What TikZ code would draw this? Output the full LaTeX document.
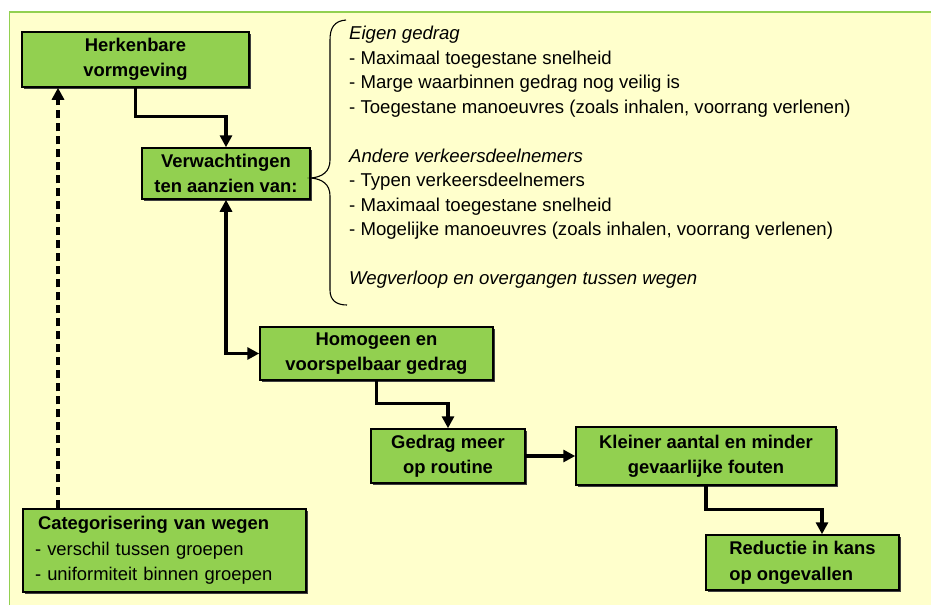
\documentclass[tikz,border=0pt]{standalone}
\usepackage{fontspec}
\setmainfont{Liberation Sans}
\usetikzlibrary{arrows.meta,shadows}
\definecolor{bgyellow}{HTML}{FFFFCC}
\definecolor{boxgreen}{HTML}{92D050}
\begin{document}
\begin{tikzpicture}[x=1pt,y=-1pt,
  box/.style={draw=black, line width=1.5pt, fill=boxgreen, inner sep=0pt,
    drop shadow={shadow xshift=1.8pt, shadow yshift=-1.8pt, fill=black!75, opacity=1},
    font=\fontsize{18.4}{25}\selectfont\bfseries, align=center},
  lbox/.style={box, align=left, font=\fontsize{18.4}{25.5}\selectfont},
  tip/.tip={Triangle[length=12pt,width=12pt]},
  arr/.style={line width=3.2pt, -tip},
  darr/.style={line width=3.2pt, tip-tip},
  dasharr/.style={line width=3.2pt, dash pattern=on 8pt off 5pt, -tip},
  line/.style={anchor=base west, inner sep=0pt, font=\fontsize{18.6}{24.5}\selectfont}]
\useasboundingbox (0,0) rectangle (931,605);
\fill[bgyellow] (9.5,12) rectangle (931,605);
\draw[boxgreen, line width=1.8pt] (9.5,605) -- (9.5,12) -- (931,12);

\node[box, minimum width=227pt, minimum height=55pt] (herk) at (135.5,59.5) {Herkenbare\\vormgeving};
\node[box, minimum width=168pt, minimum height=51pt] (verw) at (226,173.5) {Verwachtingen\\ten aanzien van:};
\node[box, minimum width=233pt, minimum height=53pt] (homo) at (376.5,353.5) {Homogeen en\\voorspelbaar gedrag};
\node[box, minimum width=154pt, minimum height=54pt] (gedr) at (448,456) {Gedrag meer\\op routine};
\node[box, minimum width=260pt, minimum height=58pt] (klein) at (706,456) {Kleiner aantal en minder\\gevaarlijke fouten};
\node[box, align=left, font=\fontsize{18.4}{26}\selectfont\bfseries, minimum width=193pt, minimum height=55pt] (red) at (802.5,562.5) {Reductie in kans\\op ongevallen};
\node[lbox, minimum width=283pt, minimum height=83pt, text width=259pt] (cat) at (164.5,550.5)
  {\hspace*{3pt}\textbf{Categorisering van wegen}\\- verschil tussen groepen\\- uniformiteit binnen groepen};

\coordinate (dx) at (58,0);
\draw[arr] (herk.south) -- ++(0,29) -| (verw.north);
\draw[darr] (verw.south) |- (homo.west);
\draw[arr] (homo.south) -- ++(0,23) -| (gedr.north);
\draw[arr] (gedr.east) -- (klein.west);
\coordinate (rx) at (822,0);
\draw[arr] (klein.south) -- ++(0,24) -| (red.north -| rx);
\draw[dasharr] (cat.north -| dx) -- (herk.south -| dx);

\draw[line width=1.1pt] (346,20) .. controls (334,21) and (330,28) .. (330,40) -- (330,160)
  .. controls (330,172) and (322,177) .. (311,178)
  .. controls (322,179) and (330,184) .. (330,196) -- (330,290)
  .. controls (330,300) and (336,305) .. (347,305);

\node[line] (l1) at (349,39.5) {\itshape Eigen gedrag};
\node[line] (l2) at (349,64) {- Maximaal toegestane snelheid};
\node[line] (l3) at (349,88.5) {- Marge waarbinnen gedrag nog veilig is};
\node[line] (l4) at (349,113) {- Toegestane manoeuvres (zoals inhalen, voorrang verlenen)};
\node[line] (l5) at (349,162) {\itshape Andere verkeersdeelnemers};
\node[line] (l6) at (349,186.5) {- Typen verkeersdeelnemers};
\node[line] (l7) at (349,211) {- Maximaal toegestane snelheid};
\node[line] (l8) at (349,235.5) {- Mogelijke manoeuvres (zoals inhalen, voorrang verlenen)};
\node[line] (l9) at (349,284.5) {\itshape Wegverloop en overgangen tussen wegen};
\end{tikzpicture}
\end{document}
